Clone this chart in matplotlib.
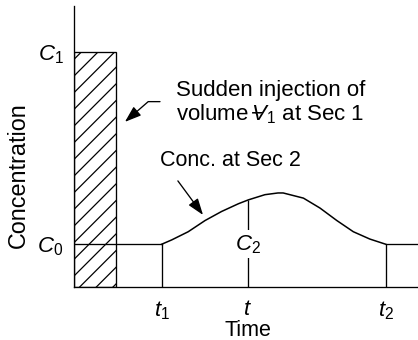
import numpy as np
import matplotlib
matplotlib.use("Agg")
import matplotlib.pyplot as plt

plt.rcParams['font.family'] = ['Liberation Sans', 'DejaVu Sans']
plt.rcParams['mathtext.fontset'] = 'custom'
plt.rcParams['mathtext.rm'] = 'Liberation Sans'
plt.rcParams['mathtext.it'] = 'Liberation Sans:italic'
plt.rcParams['hatch.linewidth'] = 0.9

# concentration levels
C0 = 1.0
C1 = 5.47

# injection pulse at Sec 1
pulse_width = 1.22

# times
t1 = 2.55
t = 5.05
t2 = 9.06
t_end = 10.0

# concentration curve at Sec 2
curve_time = [2.55, 2.84, 3.32, 3.81, 4.29, 4.78, 5.07, 5.55, 5.93, 6.08,
              6.67, 7.15, 7.64, 8.12, 8.60, 9.06]
curve_conc = [1.00, 1.10, 1.29, 1.55, 1.76, 1.94, 2.03, 2.15, 2.19, 2.19,
              2.07, 1.84, 1.55, 1.29, 1.12, 1.00]

fig = plt.figure(figsize=(4.18, 3.40), dpi=100)
ax = fig.add_axes([74 / 418, 52.7 / 340, 344 / 418, 281.3 / 340])

lw = 0.95
ax.bar([0], [C1], width=pulse_width, align='edge', facecolor='white',
       edgecolor='black', hatch='//', linewidth=lw, zorder=2)

# baseline C0 before and after the pulse
ax.plot([0, t1], [C0, C0], color='black', lw=lw, zorder=3)
ax.plot([t2, t_end], [C0, C0], color='black', lw=lw, zorder=3)
ax.plot(curve_time, curve_conc, color='black', lw=1.1, zorder=3,
        solid_joinstyle='round')

c_at_t = np.interp(t, curve_time, curve_conc)
ax.vlines([t1, t2], 0, C0, color='black', lw=lw)
ax.vlines([t], 0, c_at_t, color='black', lw=lw)
ax.text(t, C0, r'$C_2$', ha='center', va='center', fontsize=16,
        bbox=dict(facecolor='white', edgecolor='none', pad=2), zorder=4)

ax.set_xlim(0, t_end)
ax.set_ylim(0, 6.53)
for s in ['top', 'right']:
    ax.spines[s].set_visible(False)
ax.spines['left'].set_linewidth(lw)
ax.spines['bottom'].set_linewidth(lw)

ax.set_yticks([C0, C1])
ax.set_yticklabels([r'$C_0$', r'$C_1$'], fontsize=16)
ax.set_xticks([t1, t, t2])
ax.set_xticklabels([r'$t_1$', r'$t$', r'$t_2$'], fontsize=16)
ax.tick_params(axis='y', length=0, pad=7.6)
ax.tick_params(axis='x', length=0, pad=8.4)

ax.set_xlabel('Time', fontsize=15.5)
ax.xaxis.label.set_va('baseline')
ax.xaxis.set_label_coords(0.507, -0.172)
ax.set_ylabel('Concentration', fontsize=16.8)
ax.yaxis.set_label_coords(-0.128, 0.397)

ax.text(2.97, 4.45, 'Sudden injection of', ha='left', va='baseline', fontsize=16)
ax.text(2.97, 3.87, 'volume' + r'$\,\mathrm{-}\!\!\!\!V_1$' + ' at Sec 1',
        ha='left', va='baseline', fontsize=16)
ax.annotate('', xy=(1.48, 3.84), xytext=(2.5, 4.31),
            arrowprops=dict(arrowstyle='-|>,head_length=1.0,head_width=0.35',
                            mutation_scale=10, color='black', lw=lw,
                            shrinkA=0, shrinkB=0,
                            connectionstyle='angle,angleA=0,angleB=41,rad=0'))

ax.text(2.5, 2.82, 'Conc. at Sec 2', ha='left', va='baseline', fontsize=15.5)
ax.annotate('', xy=(3.75, 1.68), xytext=(3.02, 2.47),
            arrowprops=dict(arrowstyle='-|>,head_length=1.0,head_width=0.35',
                            mutation_scale=10, color='black', lw=lw,
                            shrinkA=0, shrinkB=0))

fig.savefig('out.png', dpi=100)
